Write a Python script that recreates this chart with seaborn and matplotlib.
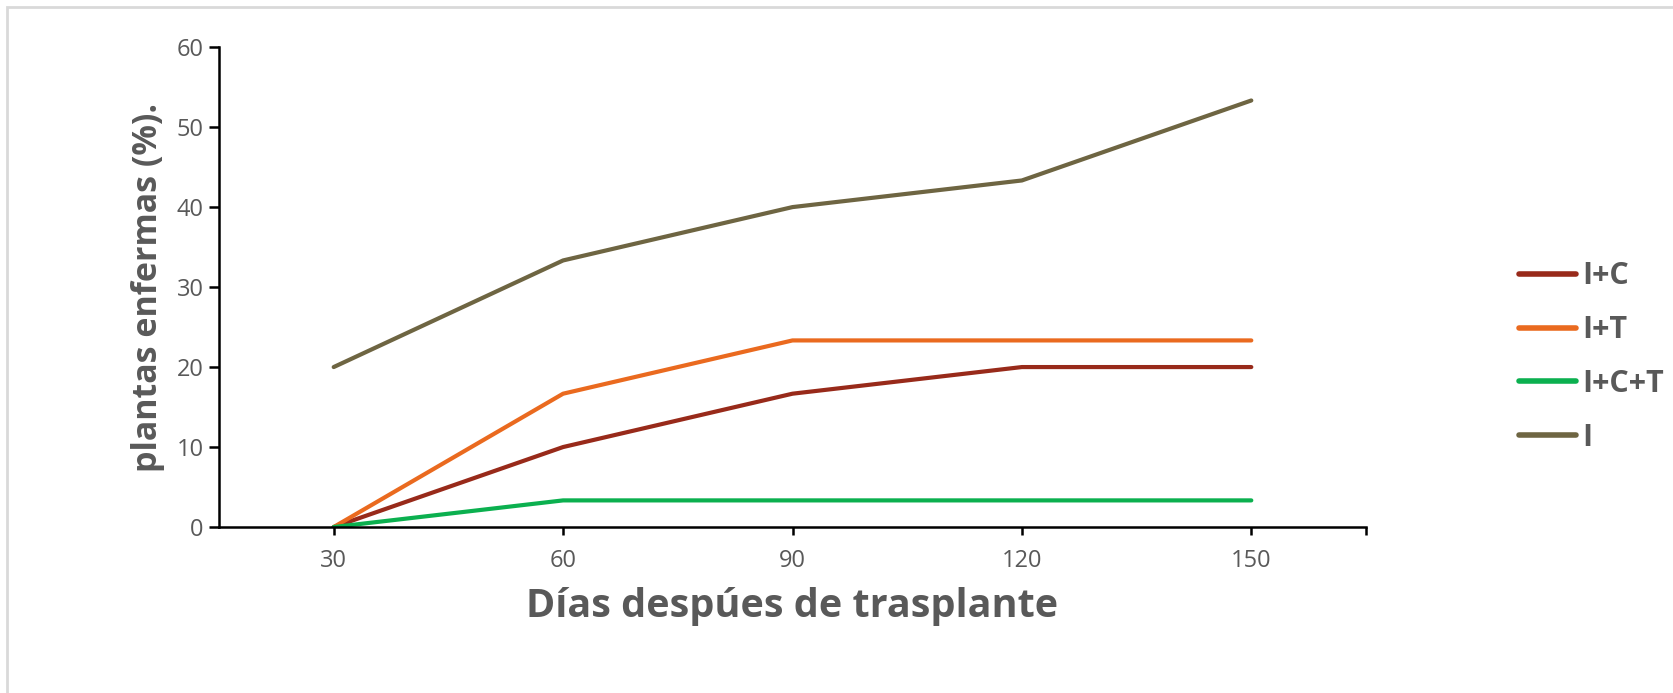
import matplotlib
matplotlib.use("Agg")
import matplotlib.pyplot as plt
import seaborn as sns
import pandas as pd
from matplotlib.patches import Rectangle

dias = [30, 60, 90, 120, 150]
series_names = ["I+C", "I+T", "I+C+T", "I"]
ic = [0, 10.0, 16.67, 20.0, 20.0]
it = [0, 16.67, 23.33, 23.33, 23.33]
ict = [0, 3.33, 3.33, 3.33, 3.33]
i_only = [20.0, 33.33, 40.0, 43.33, 53.33]
colors = ["#982A1A", "#EA6A1F", "#0BB04F", "#6E6542"]
y_ticks = [0, 10, 20, 30, 40, 50, 60]

rows = []
for name, vals in zip(series_names, [ic, it, ict, i_only]):
    for d, v in zip(dias, vals):
        rows.append({"Días": d, "valor": v, "serie": name})
df = pd.DataFrame(rows)

sns.set_theme(style="white")
plt.rcParams["font.family"] = ["Open Sans", "DejaVu Sans"]
grey = "#595959"

fig = plt.figure(figsize=(16.73, 6.93), dpi=100)
ax = fig.add_axes([0.1309, 0.2395, 0.8165 - 0.1309, 0.932 - 0.2395])

sns.lineplot(data=df, x="Días", y="valor", hue="serie", hue_order=series_names,
             palette=colors, linewidth=3.0, ax=ax, legend=True)

ax.set_xlim(15, 165)
ax.set_ylim(0, 60)
ax.set_xticks(dias)
ax.set_xticks([165], minor=True)
ax.set_yticks(y_ticks)
ax.tick_params(axis="y", which="both", direction="out", length=7, width=1.8,
               color="black", labelsize=17, labelcolor=grey, pad=4, left=True)
ax.tick_params(axis="x", which="both", direction="out", length=6, width=1.8,
               color="black", labelsize=17, labelcolor=grey, pad=10, bottom=True)
for s in ["top", "right"]:
    ax.spines[s].set_visible(False)
for s in ["left", "bottom"]:
    ax.spines[s].set_color("black")
    ax.spines[s].set_linewidth(1.8)

ax.set_xlabel("Días despúes de trasplante", fontsize=28.5, fontweight="bold",
              color=grey, labelpad=10)
ax.set_ylabel("plantas enfermas (%).", fontsize=24.5, fontweight="bold",
              color=grey, labelpad=8)

leg = ax.legend(title=None, loc="center left", bbox_to_anchor=(1.123, 0.354),
                frameon=False, fontsize=22, handlelength=1.85, handletextpad=0.2,
                labelspacing=0.78, borderaxespad=0)
for t in leg.get_texts():
    t.set_color(grey)
    t.set_fontweight("bold")
for h in leg.get_lines():
    h.set_linewidth(4)
    h.set_solid_capstyle("round")

fig.patches.append(Rectangle((7 / 1673, -0.1), 1.2, 1 - 7 / 693 + 0.1,
                             transform=fig.transFigure, fill=False,
                             edgecolor="#D9D9D9", linewidth=2))

fig.savefig("out.png", dpi=100, facecolor="white")
